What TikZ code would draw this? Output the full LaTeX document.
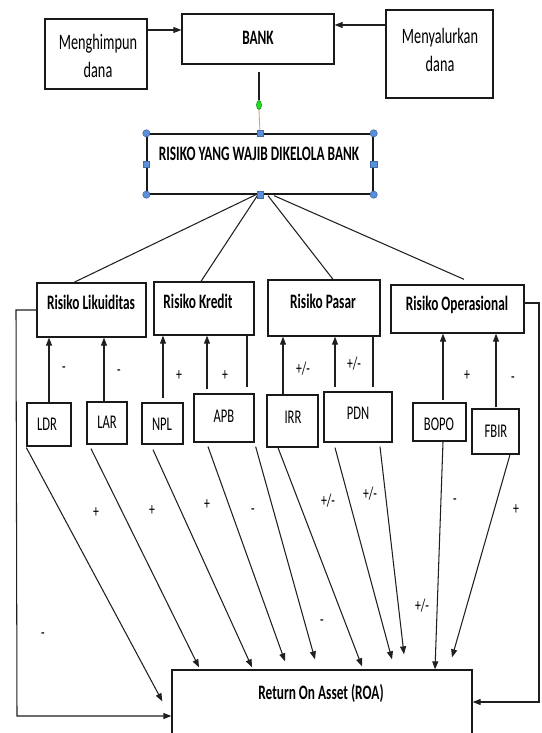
\documentclass[tikz,border=0pt]{standalone}
\usepackage{fontspec}
\setmainfont{Carlito}[FakeStretch=0.65]
\usetikzlibrary{arrows.meta,calc,fit,shapes.geometric}
\definecolor{hblue}{HTML}{5B8FD9}
\definecolor{hborder}{HTML}{3E6DA8}
\definecolor{gdotc}{HTML}{22DD22}
\definecolor{tan}{HTML}{D9A46A}
\begin{document}
\begin{tikzpicture}[x=1pt,y=-1pt,
  box/.style={draw=black!90, line width=1.3pt, inner sep=0pt},
  ln/.style={draw=black!88, line width=1.05pt},
  arr/.style={ln, -{Triangle[length=8pt,width=6pt]}},
  big/.style={font=\fontsize{20.5}{24}\selectfont\bfseries, anchor=base, inner sep=0pt},
  small/.style={font=\fontsize{19.4}{23}\selectfont, anchor=base, inner sep=0pt},
  two/.style={font=\fontsize{22}{28}\selectfont, align=center, inner sep=0pt},
  sgn/.style={font=\fontsize{18}{20}\selectfont, anchor=base, inner sep=0pt},
  handle/.style={fill=hblue, draw=hborder, line width=0.6pt}]
\clip (0,0) rectangle (541,733);
\fill[white] (0,0) rectangle (541,733);

% top row
\node[box, fit={(45,19)(147,89)}] (mh) {};
\node[two] (mh-t) at (98,56) {Menghimpun\\dana};
\node[box, fit={(182,14)(334,64)}] (bank) {};
\node[big] (bank-t) at (258,45) {BANK};
\node[box, fit={(386,10)(493,98)}] (my) {};
\node[two] (my-t) at (440,50) {Menyalurkan\\dana};
\draw[arr] (mh.east |- 0,30) -- (bank.west |- 0,30);
\draw[arr] (my.west |- 0,25) -- (bank.east |- 0,25);

% risiko box
\node[box, fit={(147,134)(373,194)}] (risk) {};
\node[big] (risk-t) at (259,160) {RISIKO YANG WAJIB DIKELOLA BANK};
\node[ellipse, fill=gdotc, draw=green!50!black, line width=0.5pt, minimum width=5pt, minimum height=9pt, inner sep=0pt] (g) at (259,105) {};
\draw[ln] ($(bank.south)+(1,7)$) -- (g.north);
\draw[draw=tan, line width=0.9pt] (g.south) -- (risk.north);

% risk categories
\node[box, fit={(37,283)(146,337)}] (lik) {};
\node[big] (lik-t) at (91,309) {Risiko Likuiditas};
\node[box, fit={(154,282)(254,335)}] (kre) {};
\node[big] (kre-t) at (198,308) {Risiko Kredit};
\node[box, fit={(268,280)(380,336)}] (pas) {};
\node[big] (pas-t) at (323,308) {Risiko Pasar};
\node[box, fit={(391,285)(524,333)}] (ops) {};
\node[big] (ops-t) at (457,310) {Risiko Operasional};

\draw[ln] ($(risk.south)+(-4,0)$) -- (74,0 |- lik.north);
\draw[ln] ($(risk.south)+(-2,0)$) -- (201,0 |- kre.north);
\draw[ln] ($(risk.south)+(8,1)$) -- (333,0 |- pas.north);
\draw[ln] ($(risk.south)+(14,1)$) -- ($(464,0 |- ops.north)+(0,-5)$);

% handles
\foreach \a in {north west,north east,south west,south east}
  \filldraw[handle] (risk.\a) circle (3.6);
\foreach \a in {north,south,west,east}
  \filldraw[handle] ($(risk.\a)+(-3.2,-3.2)$) rectangle ++(6.4,6.4);

% indicators
\node[box, fit={(27,403)(71,446)}] (ldr) {};
\node[small] (ldr-t) at (47,430) {LDR};
\node[box, fit={(87,402)(127,444)}] (lar) {};
\node[small] (lar-t) at (107,428) {LAR};
\node[box, fit={(142,403)(183,444)}] (npl) {};
\node[small] (npl-t) at (162,430) {NPL};
\node[box, fit={(194,394)(254,442)}] (apb) {};
\node[small] (apb-t) at (224,422) {APB};
\node[box, fit={(267,395)(318,447)}] (irr) {};
\node[small] (irr-t) at (293,423) {IRR};
\node[box, fit={(324,392)(392,442)}] (pdn) {};
\node[small] (pdn-t) at (358,419) {PDN};
\node[box, fit={(413,403)(466,441)}] (bopo) {};
\node[small] (bopo-t) at (439,430) {BOPO};
\node[box, fit={(472,409)(519,454)}] (fbir) {};
\node[small] (fbir-t) at (496,437) {FBIR};

% upward arrows
\draw[arr] (49,0 |- ldr.north) -- (49,0 |- lik.south);
\draw[arr] (104,0 |- lar.north) -- (104,0 |- lik.south);
\draw[arr] ($(163,0 |- npl.north)+(0,-4)$) -- (163,0 |- kre.south);
\draw[arr] ($(207,0 |- apb.north)+(0,-4)$) -- (207,0 |- kre.south);
\draw[ln] ($(247,0 |- apb.north)+(0,-6)$) -- (247,0 |- kre.south);
\draw[arr] (283,0 |- irr.north) -- (283,0 |- pas.south);
\draw[arr] ($(335,0 |- pdn.north)+(0,-4)$) -- (335,0 |- pas.south);
\draw[ln] ($(373,0 |- pdn.north)+(0,-4)$) -- (373,0 |- pas.south);
\draw[arr] ($(443,0 |- bopo.north)+(0,-2)$) -- (443,0 |- ops.south);
\draw[arr] ($(496,0 |- fbir.north)+(0,-1)$) -- (496,0 |- ops.south);

% ROA
\node[box, fit={(172,670)(472,760)}] (roa) {};
\node[big] (roa-t) at (321,699) {Return On Asset (ROA)};

% loops
\draw[arr] (lik.west) -- (16,0 |- lik.west) -- (17,716) -- (roa.west |- 0,716);
\draw[arr] (ops.east |- 0,303) -- (539,303) -- (539,702) -- (roa.east |- 0,702);

% diagonal arrows to ROA
\draw[arr] ($(ldr.south west)+(0,1)$) -- ($(roa.north west)+(-9,32)$);
\draw[arr] ($(91,0 |- lar.south)+(0,4)$) -- ($(199,0 |- roa.north)+(0,-2)$);
\draw[arr] ($(153,0 |- npl.south)+(0,5)$) -- ($(252,0 |- roa.north)+(0,-2)$);
\draw[arr] ($(208,0 |- apb.south)+(0,4)$) -- ($(285,0 |- roa.north)+(0,-8)$);
\draw[arr] ($(apb.south east)+(1,4)$) -- ($(315,0 |- roa.north)+(0,-10)$);
\draw[arr] (278,0 |- irr.south) -- ($(362,0 |- roa.north)+(0,-3)$);
\draw[arr] ($(335,0 |- pdn.south)+(0,5)$) -- ($(392,0 |- roa.north)+(0,-10)$);
\draw[arr] ($(380,0 |- pdn.south)+(0,4)$) -- ($(404,0 |- roa.north)+(0,-15)$);
\draw[arr] (443,0 |- bopo.south) -- (435,0 |- roa.north);
\draw[arr] (510,0 |- fbir.south) -- ($(452,0 |- roa.north)+(0,-12)$);

% signs upper
\node[sgn] (s1) at (64,372) {-};
\node[sgn] (s2) at (119,375) {-};
\node[sgn] (s3) at (179,380) {+};
\node[sgn] (s4) at (225,380) {+};
\node[sgn] (s5) at (303,374) {+/-};
\node[sgn] (s6) at (354,369) {+/-};
\node[sgn] (s7) at (467,380) {+};
\node[sgn] (s8) at (513,382) {-};
% signs lower
\node[sgn] (s9) at (96,517) {+};
\node[sgn] (s10) at (152,515) {+};
\node[sgn] (s11) at (207,509) {+};
\node[sgn] (s12) at (253,514) {-};
\node[sgn] (s13) at (43,638) {-};
\node[sgn] (s14) at (328,506) {+/-};
\node[sgn] (s15) at (370,499) {+/-};
\node[sgn] (s16) at (455,504) {-};
\node[sgn] (s17) at (516,514) {+};
\node[sgn] (s18) at (422,611) {+/-};
\node[sgn] (s19) at (322,625) {-};
\end{tikzpicture}
\end{document}
